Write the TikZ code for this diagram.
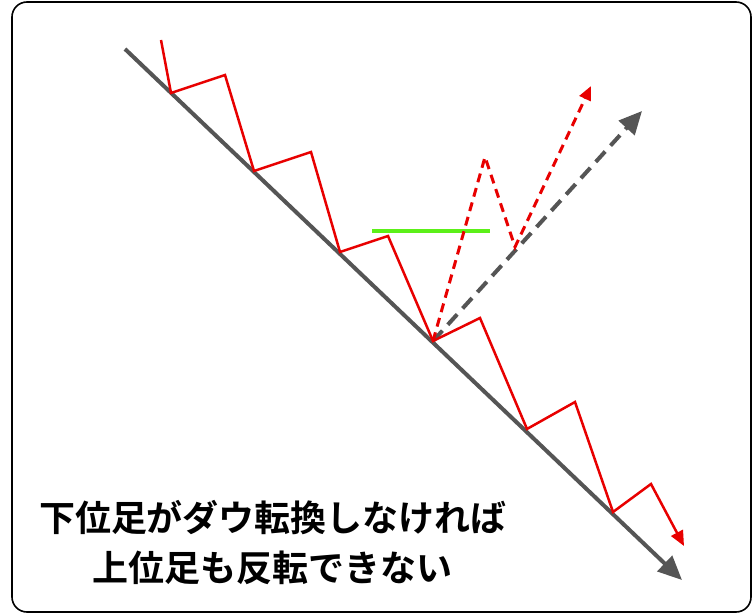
\documentclass[tikz,border=0pt]{standalone}
\usepackage{fontspec}
\newfontfamily\jpfont{Noto Sans CJK JP}[BoldFont={Noto Sans CJK JP Bold}]
\usetikzlibrary{arrows.meta}
\definecolor{trendgray}{RGB}{85,85,85}
\definecolor{waved}{RGB}{232,0,0}
\definecolor{resgreen}{RGB}{92,240,24}

\begin{document}
\begin{tikzpicture}[x=1pt, y=-1pt,
  %% Frame
  frame/.style   ={draw=black, line width=1.6pt, rounded corners=15pt, fill=white},
  %% Lines
  trend/.style   ={draw=trendgray, line width=4pt, -{Triangle[length=24pt, width=21pt]}},
  trenddash/.style={draw=trendgray, line width=4pt, dash pattern=on 14pt off 8pt,
                   -{Triangle[length=23pt, width=21pt]}},
  wave/.style    ={draw=waved, line width=2.5pt, line join=miter, -{Triangle[length=15pt, width=13pt]}},
  wavedash/.style={draw=waved, line width=3pt, dash pattern=on 9pt off 6pt,
                   -{Triangle[length=14pt, width=12pt]}},
  resist/.style  ={draw=resgreen, line width=4pt},
  caption/.style ={align=center, font=\jpfont\bfseries\fontsize{36}{50}\selectfont}
]
\useasboundingbox (0,0) rectangle (756,615);

%% ── FRAME ──────────────────────────────────────────────
\draw[frame] (12,2) rectangle (751,612);

%% ── POINTS ─────────────────────────────────────────────
\coordinate (t0) at (125,49);
\coordinate (t1) at (682,580);

\coordinate (w0)  at (161,40);
\coordinate (w1)  at (171,93);
\coordinate (w2)  at (225,75);
\coordinate (w3)  at (254,171);
\coordinate (w4)  at (311,152);
\coordinate (w5)  at (340,252);
\coordinate (w6)  at (388,236);
\coordinate (low) at (433,341);
\coordinate (w8)  at (480,318);
\coordinate (w9)  at (527,429);
\coordinate (w10) at (575,402);
\coordinate (w11) at (613,512);
\coordinate (w12) at (651,484);
\coordinate (w13) at (684,546);

\coordinate (d1) at (485,157);
\coordinate (d2) at (515,247);
\coordinate (d3) at (591,86);
\coordinate (g1) at (642,111);

\coordinate (r0) at (372,231);
\coordinate (r1) at (490,231);

%% ── DRAWING ────────────────────────────────────────────
\draw[trend] (t0) -- (t1);
\draw[resist] (r0) -- (r1);
\draw[trenddash] (low) -- (g1);
\draw[wavedash] (low) -- (d1) -- (d2) -- (d3);
\draw[wave] (w0) -- (w1) -- (w2) -- (w3) -- (w4) -- (w5) -- (w6) -- (low)
  -- (w8) -- (w9) -- (w10) -- (w11) -- (w12) -- (w13);

%% ── CAPTION ────────────────────────────────────────────
\node[caption] (msg) at (273,543) {下位足がダウ転換しなければ\\上位足も反転できない};

\end{tikzpicture}
\end{document}
